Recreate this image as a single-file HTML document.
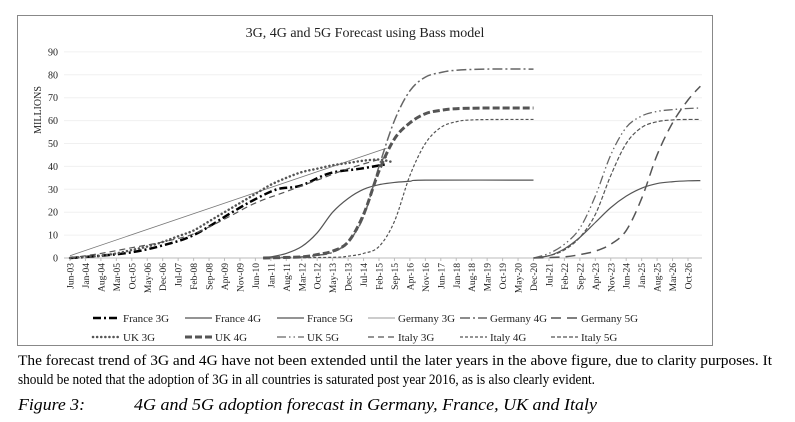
<!DOCTYPE html>
<html><head><meta charset="utf-8"><style>
body{margin:0;background:#fff;width:795px;height:422px;overflow:hidden}
svg{display:block}
</style></head><body>
<svg id="chart" width="795" height="422" xmlns="http://www.w3.org/2000/svg" font-family="Liberation Serif, serif">
<rect x="17.5" y="15.5" width="695" height="330" fill="#fff" stroke="#888" stroke-width="1"/>
<text x="365" y="37" font-size="14" text-anchor="middle" fill="#222">3G, 4G and 5G Forecast using Bass model</text>
<text transform="translate(41,110) rotate(-90)" font-size="10" text-anchor="middle" fill="#222">MILLIONS</text>
<g id="grid"></g><g id="yticks"></g><g id="xticks"></g><g id="series"></g><g id="legend"></g>
<text x="18" y="365" font-size="14.5" textLength="754" lengthAdjust="spacingAndGlyphs" fill="#000">The forecast trend of 3G and 4G have not been extended until the later years in the above figure, due to clarity purposes. It</text>
<text x="18" y="384" font-size="14.5" textLength="577" lengthAdjust="spacingAndGlyphs" fill="#000">should be noted that the adoption of 3G in all countries is saturated post year 2016, as is also clearly evident.</text>
<text x="18" y="410" font-size="17" font-style="italic" textLength="67" lengthAdjust="spacingAndGlyphs" fill="#000">Figure 3:</text>
<text x="134" y="410" font-size="17" font-style="italic" textLength="463" lengthAdjust="spacingAndGlyphs" fill="#000">4G and 5G adoption forecast in Germany, France, UK and Italy</text>
</svg>
<script>
const xLabels=["Jun-03","Jan-04","Aug-04","Mar-05","Oct-05","May-06","Dec-06","Jul-07","Feb-08","Sep-08","Apr-09","Nov-09","Jun-10","Jan-11","Aug-11","Mar-12","Oct-12","May-13","Dec-13","Jul-14","Feb-15","Sep-15","Apr-16","Nov-16","Jun-17","Jan-18","Aug-18","Mar-19","Oct-19","May-20","Dec-20","Jul-21","Feb-22","Sep-22","Apr-23","Nov-23","Jun-24","Jan-25","Aug-25","Mar-26","Oct-26"];
const yTicks=[0,10,20,30,40,50,60,70,80,90];
// series: [label-index, value in millions]
const france3G=[[0,0],[2,1],[4,2.5],[6,5.5],[8,10],[10.5,20],[11.8,25],[13.4,30],[14.9,31.5],[16.8,37],[18.8,39],[20.5,41]];
const uk3G=[[0,0],[1,0.5],[2,1],[3,2],[4,3.5],[5,5],[6,7],[7,9.5],[8,12],[9,16],[10,20],[11,24],[12,28],[13,32],[14,35],[15,37.5],[16,39],[17,40.5],[18,41.5],[19,42.5],[20,43],[20.8,42]];
const germany3G=[[0,1],[20.5,48]];
const italy3G=[[0,0],[2,2],[4,4.5],[6,7],[8,10.5],[10,17],[12,24],[14,29],[16,34],[18,39],[20.5,44]];
const france4G=[[12.5,0],[13,0.5],[14,2],[15,5],[16,11],[17,20],[18,26],[19,30],[20,32],[21,33],[22,33.5],[23,34],[30,34]];
const uk4G=[[12.5,0],[15,0.5],[16,1.5],[17,3],[18,7],[19,19],[20,38],[21,52],[22,59],[23,63],[24,64.5],[25,65.2],[27,65.5],[30,65.5]];
const germany4G=[[12.5,0],[15,0.5],[16,1.2],[17,2.5],[18,7],[19,18],[20,40],[21,60],[22,73],[23,79],[24,81],[25,82],[27,82.5],[30,82.5]];
const italy4G=[[12.5,0],[17,0.3],[18,0.8],[19,2],[20,5],[21,16],[22,36],[23,50],[24,57],[25,59.5],[26,60.3],[28,60.5],[30,60.5]];
const france5G=[[30,0],[31,1],[32,4],[33,9],[34,15.5],[35,22],[36,27],[37,30.5],[38,32.5],[39,33.3],[40,33.7],[40.8,33.8]];
const uk5G=[[30,0],[31,2],[32,6],[33,13],[34,27],[35,45],[36,57],[37,62],[38,64],[39,64.8],[40,65.3],[40.8,65.5]];
const italy5G=[[30,0],[31,1],[32,3.5],[33,9],[34,19],[35,36],[36,50],[37,57],[38,59.5],[39,60.3],[40,60.5],[40.8,60.5]];
const germany5G=[[30,0],[32,0.5],[33,1.5],[34,3],[35,6],[36,12],[37,26],[38,45],[39,59],[40,69],[40.8,75]];

const NS="http://www.w3.org/2000/svg";
const X0=70,DX=15.45,Y0=258,DY=2.29;
const xs=k=>X0+k*DX, ys=v=>Y0-v*DY;
function mk(tag,attrs,parent){const e=document.createElementNS(NS,tag);for(const k in attrs)e.setAttribute(k,attrs[k]);parent.appendChild(e);return e;}
const grid=document.getElementById('grid'),yt=document.getElementById('yticks'),xt=document.getElementById('xticks'),sg=document.getElementById('series'),lg=document.getElementById('legend');
yTicks.forEach(v=>{
  const l=mk('line',{x1:64,x2:702,y1:ys(v),y2:ys(v),stroke:v===0?'#bbb':'#f0f0f0','stroke-width':1},grid);
  
  
  const t=mk('text',{x:58,y:ys(v)+3.5,'font-size':10,'text-anchor':'end',fill:'#222'},yt);
  
  
  t.textContent=v;
});
xLabels.forEach((s,k)=>{
  const x=xs(k);
  const tk=mk('line',{x1:x,x2:x,y1:Y0,y2:Y0+3,stroke:'#bbb'},xt);
  
  
  const t=mk('text',{transform:`translate(${x+3.5},${Y0+5}) rotate(-90)`,'font-size':9.5,'text-anchor':'end',fill:'#222'},xt);
  
  
  t.textContent=s;
});
function path(pts){
  const P=pts.map(p=>[xs(p[0]),ys(p[1])]);
  let d=`M${P[0][0]},${P[0][1]}`;
  for(let i=0;i<P.length-1;i++){
    const p0=P[i-1]||P[i],p1=P[i],p2=P[i+1],p3=P[i+2]||p2;
    const c1=[p1[0]+(p2[0]-p0[0])/6,p1[1]+(p2[1]-p0[1])/6],c2=[p2[0]-(p3[0]-p1[0])/6,p2[1]-(p3[1]-p1[1])/6];
    d+=`C${c1},${c2},${p2}`;
  }
  return d;
}
const styles=[
 ['France 3G',france3G,'#000',2.5,'8 3 2 3','france-3g',0,0],
 ['France 4G',france4G,'#555',1.2,'','france-4g',1,0],
 ['France 5G',france5G,'#555',1.2,'','france-5g',2,0],
 ['Germany 3G',germany3G,'#777',0.8,'','germany-3g',3,0],
 ['Germany 4G',germany4G,'#666',1.5,'10 3 2 3','germany-4g',4,0],
 ['Germany 5G',germany5G,'#555',1.5,'10 6','germany-5g',5,0],
 ['UK 3G',uk3G,'#555',2.5,'0.1 4','uk-3g',0,1],
 ['UK 4G',uk4G,'#555',3,'7 3','uk-4g',1,1],
 ['UK 5G',uk5G,'#666',1.3,'9 3 1.5 3 1.5 3','uk-5g',2,1],
 ['Italy 3G',italy3G,'#555',1.2,'6 4','italy-3g',3,1],
 ['Italy 4G',italy4G,'#555',1.2,'3 2','italy-4g',4,1],
 ['Italy 5G',italy5G,'#555',1.2,'4 2','italy-5g',5,1]
];
const legX=[93,185,277,368,460,551];
styles.forEach(([lab,data,col,w,dash,nm,c,r])=>{
  const cap=dash==='0.1 4'?'round':'butt';
  const p=mk('path',{d:path(data),fill:'none',stroke:col,'stroke-width':w,'stroke-dasharray':dash,'stroke-linecap':cap},sg);
  
  
  const y=r?337:318;
  const g=mk('g',{},lg);
  
  
  mk('line',{x1:legX[c],x2:legX[c]+27,y1:y,y2:y,stroke:col,'stroke-width':w,'stroke-dasharray':dash,'stroke-linecap':cap},g);
  const t=mk('text',{x:legX[c]+30,y:y+4,'font-size':11,fill:'#222'},g);
  t.textContent=lab;
});
</script>
</body></html>
